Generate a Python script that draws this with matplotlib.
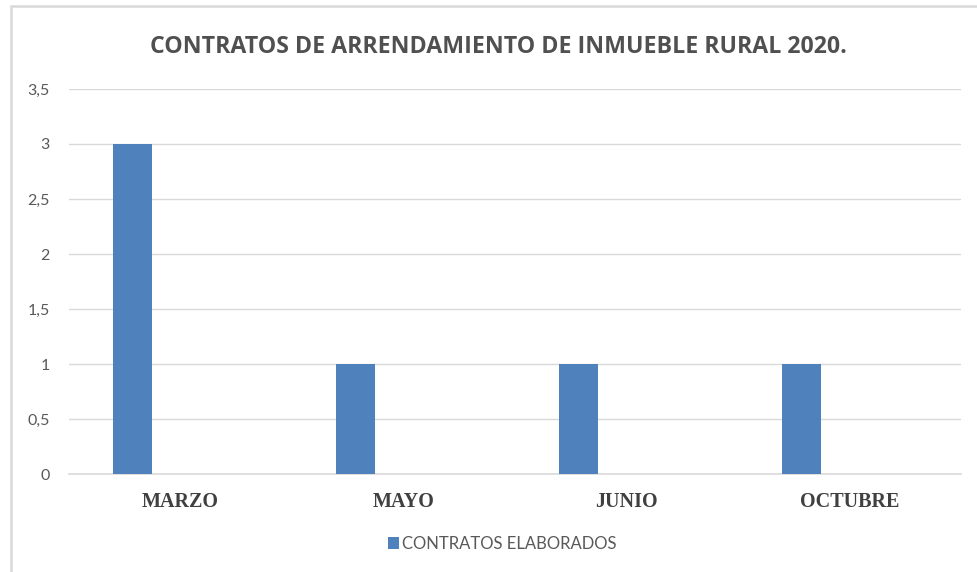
import matplotlib.pyplot as plt
import numpy as np
from matplotlib.patches import Rectangle

meses = ['MARZO', 'MAYO', 'JUNIO', 'OCTUBRE']
contratos = [3, 1, 1, 1]
serie = 'CONTRATOS ELABORADOS'
titulo = 'CONTRATOS DE ARRENDAMIENTO DE INMUEBLE RURAL 2020.'
yticks = [0, 0.5, 1, 1.5, 2, 2.5, 3, 3.5]

W, H = 977, 572
fig = plt.figure(figsize=(W / 100, H / 100), dpi=100)
ax = fig.add_axes([69 / W, (H - 474) / H, (961 - 69) / W, (474 - 89) / H])

# chart border (cut at right/bottom like the screenshot)
fig.patches.append(Rectangle((10.5 / W, -0.1), 1.2, (H - 5.5) / H + 0.1,
                             transform=fig.transFigure, fill=False,
                             edgecolor='#D9D9D9', linewidth=1.8))

x = np.arange(len(meses))
barras = ax.bar(x - 0.215, contratos, width=0.175, color='#4F81BD',
                label=serie, zorder=3)

ax.set_xlim(-0.5, len(meses) - 0.5)
ax.set_ylim(0, 3.5)
ax.set_yticks(yticks)
ax.set_yticklabels([('%g' % t).replace('.', ',') for t in yticks],
                   fontfamily='Lato', fontsize=11.5, color='#595959')
ax.set_xticks(x)
ax.set_xticklabels(meses, fontfamily='Liberation Serif', fontweight='bold',
                   fontsize=14.5, color='#404040')
ax.tick_params(axis='y', length=0, pad=14)
ax.tick_params(axis='x', length=0, pad=13)
ax.grid(axis='y', color='#D9D9D9', linewidth=1, zorder=0)
for s in ['top', 'right', 'left']:
    ax.spines[s].set_visible(False)
ax.spines['bottom'].set_color('#D9D9D9')
ax.spines['bottom'].set_linewidth(1.2)

fig.text(498 / W, 1 - 47 / H, titulo, ha='center', va='center',
         fontfamily='Open Sans', fontweight='bold', fontsize=16.7,
         color='#505050')

leg = ax.legend(loc='center', bbox_to_anchor=(502 / W, 1 - 544 / H),
                bbox_transform=fig.transFigure, frameon=False,
                handlelength=0.7, handleheight=0.7, handletextpad=0.15,
                prop={'family': 'Lato', 'size': 12})
for t in leg.get_texts():
    t.set_color('#595959')

fig.savefig('out.png', dpi=100)
